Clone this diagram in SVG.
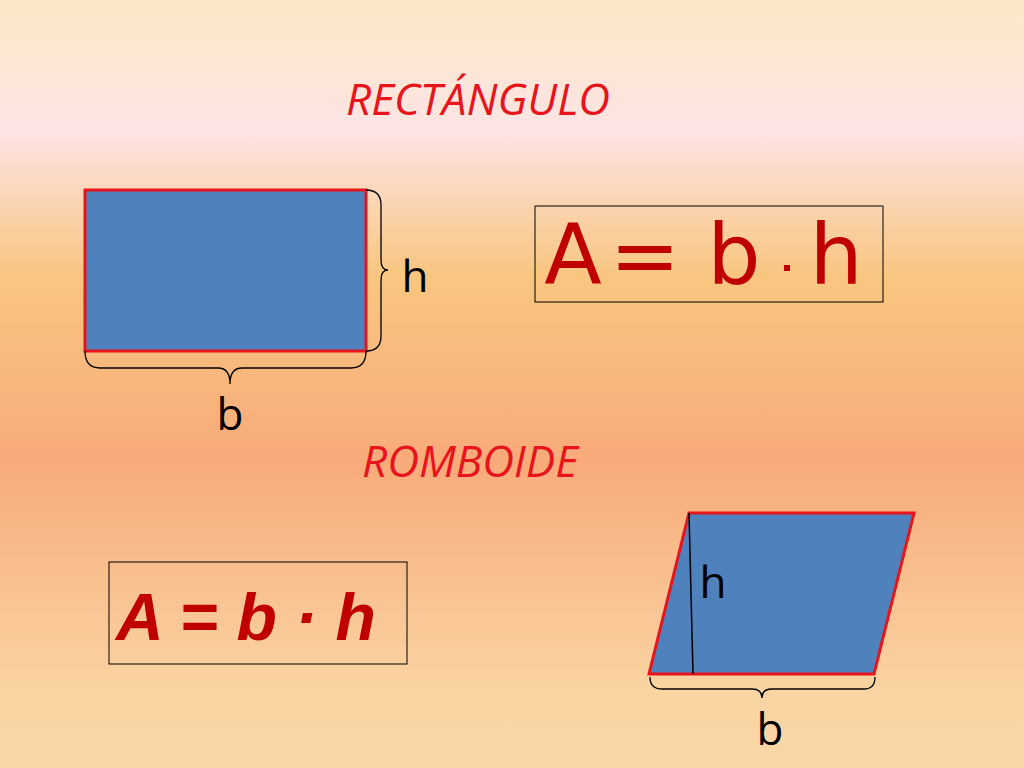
<svg xmlns="http://www.w3.org/2000/svg" width="1024" height="768" viewBox="0 0 1024 768">
<style>
.lbl{font-family:"Open Sans","Liberation Sans",sans-serif;fill:#000;font-size:44px}
.title{font-family:"Open Sans","Liberation Sans",sans-serif;fill:#e8141c;font-style:italic;font-size:44px}
.shape{fill:#4f81bd;stroke:#e8141c;stroke-width:3}
.br{fill:none;stroke:#000;stroke-width:1.3}
.box{fill:none;stroke:#000;stroke-width:1}
.f1{font-family:"DejaVu Sans","Liberation Sans",sans-serif;font-size:84px;fill:#c00000}
</style>
<defs>
<linearGradient id="bg" x1="0" y1="0" x2="0" y2="1">
<stop offset="0" stop-color="#fbe8c6"/>
<stop offset="0.17" stop-color="#fde4e4"/>
<stop offset="0.36" stop-color="#f9c680"/>
<stop offset="0.6" stop-color="#f8aa7a"/>
<stop offset="0.9" stop-color="#fad4a2"/>
<stop offset="1" stop-color="#fad6a8"/>
</linearGradient>
</defs>
<rect width="1024" height="768" fill="url(#bg)"/>
<text class="title" x="478" y="115" text-anchor="middle">RECTÁNGULO</text>
<text class="title" x="470" y="477" text-anchor="middle">ROMBOIDE</text>
<g id="rect"><rect class="shape" x="85" y="190" width="281" height="161"/></g>
<g id="braces">
<path class="br" d="M366 190 Q381 190 381 205 V260 Q381 270 388 270 Q381 270 381 280 V336 Q381 351 366 351"/>
<path class="br" d="M85 351 Q85 368 100 368 H218 Q230 368 230 384 Q230 368 242 368 H351 Q366 368 366 351"/>
<path class="br" d="M650 677 Q650 689 662 689 H752 Q762 689 762 698 Q762 689 772 689 H864 Q875 689 875 677"/>
</g>
<text class="lbl" x="415" y="292" text-anchor="middle">h</text>
<text class="lbl" x="230" y="430" text-anchor="middle">b</text>
<g id="formula1">
<rect class="box" x="535" y="206" width="348" height="96"/>
<text class="f1" x="573" y="284" text-anchor="middle">A</text>
<text class="f1" x="645" y="284" text-anchor="middle">=</text>
<text class="f1" x="734" y="284" text-anchor="middle">b</text>
<rect x="784" y="265" width="6" height="6" fill="#c00000"/>
<text class="f1" x="836" y="284" text-anchor="middle">h</text>
</g>
<g id="formula2">
<rect class="box" x="109" y="562" width="298" height="102"/>
<text x="116" y="640" font-family="'Liberation Sans',Arial,sans-serif" font-size="66" font-weight="bold" font-style="italic" fill="#c00000">A = b · h</text>
</g>
<g id="romboide">
<polygon class="shape" points="689,513 914,513 874,674 649,674"/>
<line x1="689" y1="513" x2="693" y2="674" stroke="#000" stroke-width="1.5"/>
</g>
<text class="lbl" x="713" y="598" text-anchor="middle">h</text>
<text class="lbl" x="770" y="745" text-anchor="middle">b</text>
</svg>
